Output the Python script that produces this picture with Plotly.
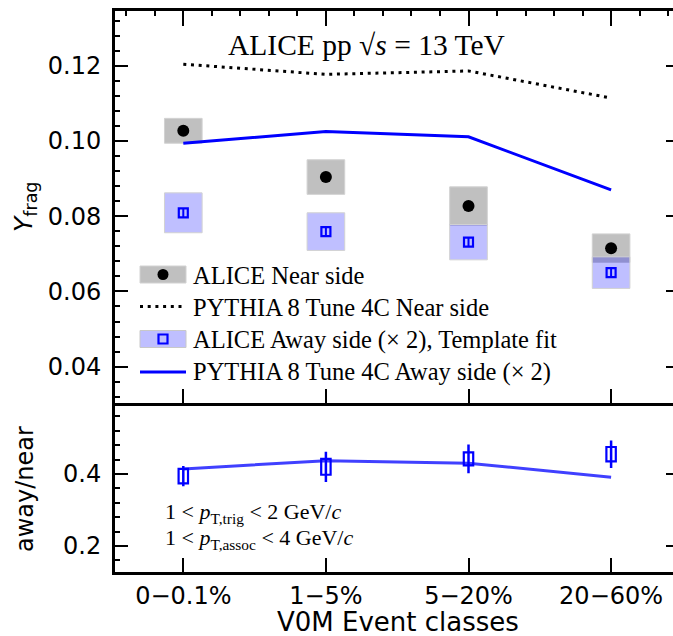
import plotly.graph_objects as go

# ---------------- data ----------------
categories = ["0\u22120.1%", "1\u22125%", "5\u221220%", "20\u221260%"]
xpos = [0, 1, 2, 3]

near_val = [0.1027, 0.0904, 0.0827, 0.0715]
near_sys = [0.0033, 0.0046, 0.0051, 0.0038]
away_val = [0.0809, 0.0759, 0.0731, 0.0650]
away_sys = [0.0053, 0.0050, 0.0047, 0.0042]
away_stat = [0.0011, 0.0012, 0.0012, 0.0011]
pythia_near = [0.1204, 0.1177, 0.1186, 0.1114]
pythia_away = [0.0994, 0.1025, 0.1011, 0.0870]

ratio_val = [0.394, 0.420, 0.442, 0.455]
ratio_sys = [0.020, 0.022, 0.018, 0.020]
ratio_stat = [0.028, 0.042, 0.040, 0.038]
pythia_ratio = [0.414, 0.437, 0.430, 0.391]

# ---------------- geometry helpers (pixels -> paper) ----------------
FW, FH = 673, 636
L, R, T, B = 115, 673, 11, 572
W, H = R - L, B - T


def px(x):
    return (x - L) / W


def py(y):
    return (B - y) / H


top_dom = [py(402.5), 1.0]
bot_dom = [0.0, py(405.5)]
xr = [(115 - 183.3) / 142.6, (673 - 183.3) / 142.6]
yr_top = [0.03048, 0.13454]
yr_bot = [0.1278, 0.5903]

BLUE = "#0000ff"
TICKFONT = dict(family="DejaVu Sans", size=24, color="black")
SERIF = "Liberation Serif"

fig = go.Figure()

# systematic boxes (top panel)
fig.add_trace(go.Bar(
    x=xpos, y=[2 * s for s in near_sys],
    base=[v - s for v, s in zip(near_val, near_sys)],
    width=0.264, marker=dict(color="#c0c0c0", line=dict(color="#d2d2d2", width=1)),
    xaxis="x", yaxis="y", showlegend=False, hoverinfo="skip"))
fig.add_trace(go.Bar(
    x=xpos, y=[2 * s for s in away_sys],
    base=[v - s for v, s in zip(away_val, away_sys)],
    width=0.264, marker=dict(color="rgba(0,0,255,0.25)", line=dict(color="#d2d2d2", width=1)),
    xaxis="x", yaxis="y", showlegend=False, hoverinfo="skip"))

# PYTHIA curves (top panel)
fig.add_trace(go.Scatter(
    x=xpos, y=pythia_near, mode="lines",
    line=dict(color="black", width=3, dash="3px,4.7px"),
    xaxis="x", yaxis="y", showlegend=False, hoverinfo="skip"))
fig.add_trace(go.Scatter(
    x=xpos, y=pythia_away, mode="lines",
    line=dict(color=BLUE, width=3),
    xaxis="x", yaxis="y", showlegend=False, hoverinfo="skip"))

# data points (top panel)
fig.add_trace(go.Scatter(
    x=xpos, y=near_val, mode="markers",
    marker=dict(symbol="circle", size=12, color="black"),
    xaxis="x", yaxis="y", showlegend=False, hoverinfo="skip"))
fig.add_trace(go.Scatter(
    x=xpos, y=away_val, mode="markers",
    marker=dict(symbol="square-open", size=9, color=BLUE, line=dict(width=2.2, color=BLUE)),
    error_y=dict(type="data", array=away_stat, visible=True, color=BLUE, thickness=2, width=0),
    xaxis="x", yaxis="y", showlegend=False, hoverinfo="skip"))

# bottom panel
fig.add_trace(go.Scatter(
    x=xpos, y=pythia_ratio, mode="lines",
    line=dict(color="rgba(0,0,255,0.75)", width=3),
    xaxis="x2", yaxis="y2", showlegend=False, hoverinfo="skip"))
fig.add_trace(go.Bar(
    x=xpos, y=[2 * s for s in ratio_sys],
    base=[v - s for v, s in zip(ratio_val, ratio_sys)],
    width=0.066, marker=dict(color="rgba(0,0,0,0)", line=dict(color=BLUE, width=2.2)),
    xaxis="x2", yaxis="y2", showlegend=False, hoverinfo="skip"))
fig.add_trace(go.Scatter(
    x=xpos, y=ratio_val, mode="markers",
    marker=dict(size=1, color="rgba(0,0,0,0)"),
    error_y=dict(type="data", array=ratio_stat, visible=True, color=BLUE, thickness=2.5, width=0),
    xaxis="x2", yaxis="y2", showlegend=False, hoverinfo="skip"))

# empty traces so that the mirror-tick axes (top / right) get drawn
fig.add_trace(go.Scatter(x=[], y=[], xaxis="x3", yaxis="y3", showlegend=False, hoverinfo="skip"))
fig.add_trace(go.Scatter(x=[], y=[], xaxis="x2", yaxis="y4", showlegend=False, hoverinfo="skip"))

common = dict(showgrid=False, zeroline=False)

fig.update_layout(
    width=FW, height=FH,
    margin=dict(l=L, r=FW - R, t=T, b=FH - B, pad=0),
    paper_bgcolor="white", plot_bgcolor="white",
    barmode="overlay", showlegend=False,
    xaxis=dict(domain=[0, 1], anchor="y", range=xr, tickmode="array", tickvals=xpos,
               ticks="inside", ticklen=14, tickwidth=1.6, tickcolor="black",
               showticklabels=False, showline=True, linewidth=3, linecolor="black", **common),
    xaxis3=dict(overlaying="x", anchor="y3", side="top", range=xr, tickmode="linear",
                tick0=0, dtick=1, ticks="inside", ticklen=15, tickwidth=1.6, tickcolor="black",
                minor=dict(ticks="inside", ticklen=5, tickwidth=1.6, tickcolor="black", dtick=0.2, tick0=0),
                showticklabels=False, showline=True, linewidth=3, linecolor="black", **common),
    yaxis=dict(domain=top_dom, anchor="x", range=yr_top, tickmode="linear", tick0=0, dtick=0.02,
               tickformat=".2f", ticks="inside", ticklen=13, tickwidth=1.6, tickcolor="black",
               minor=dict(ticks="inside", ticklen=5, tickwidth=1.6, tickcolor="black", dtick=0.004, tick0=0),
               tickfont=TICKFONT, ticklabelstandoff=6,
               showline=True, linewidth=3, linecolor="black", **common),
    yaxis3=dict(overlaying="y", anchor="x3", side="right", range=yr_top, tickmode="linear",
                tick0=0, dtick=0.02, ticks="inside", ticklen=7, tickwidth=1.6, tickcolor="black",
                showticklabels=False, showline=False, **common),
    xaxis2=dict(domain=[0, 1], anchor="y2", range=xr, tickmode="array", tickvals=xpos,
                ticktext=categories, ticks="inside", ticklen=14, tickwidth=1.6, tickcolor="black",
                tickfont=TICKFONT, ticklabelstandoff=0,
                showline=True, linewidth=3, linecolor="black", **common),
    yaxis2=dict(domain=bot_dom, anchor="x2", range=yr_bot, tickmode="linear", tick0=0, dtick=0.2,
                tickformat=".1f", ticks="inside", ticklen=13, tickwidth=1.6, tickcolor="black",
                minor=dict(ticks="inside", ticklen=5, tickwidth=1.6, tickcolor="black", dtick=0.04, tick0=0),
                tickfont=TICKFONT, ticklabelstandoff=6,
                showline=True, linewidth=3, linecolor="black", **common),
    yaxis4=dict(overlaying="y2", anchor="x2", side="right", range=yr_bot, tickmode="linear",
                tick0=0, dtick=0.2, ticks="inside", ticklen=7, tickwidth=1.6, tickcolor="black",
                showticklabels=False, showline=False, **common),
)

ann = []
# axis titles
ann.append(dict(text="<i>Y</i><sub>frag</sub>", x=px(25), y=py(207), xref="paper", yref="paper",
                textangle=-90, showarrow=False, xanchor="center", yanchor="middle",
                font=dict(family="DejaVu Sans", size=25, color="black")))
ann.append(dict(text="away/near", x=px(25), y=py(489), xref="paper", yref="paper",
                textangle=-90, showarrow=False, xanchor="center", yanchor="middle",
                font=dict(family="DejaVu Sans", size=24, color="black")))
ann.append(dict(text="V0M Event classes", x=px(398), y=py(622), xref="paper", yref="paper",
                showarrow=False, xanchor="center", yanchor="middle",
                font=dict(family="DejaVu Sans", size=26, color="black")))
# header
ann.append(dict(text="ALICE pp \u221A<i>s</i> = 13 TeV", x=px(366), y=py(45), xref="paper", yref="paper",
                showarrow=False, xanchor="center", yanchor="middle",
                font=dict(family=SERIF, size=29.5, color="black")))
# kinematics
ann.append(dict(text="1 &lt; <i>p</i><sub>T,trig</sub> &lt; 2 GeV/<i>c</i>", x=px(163), y=py(513),
                xref="paper", yref="paper", showarrow=False, xanchor="left", yanchor="middle",
                font=dict(family=SERIF, size=22, color="black")))
ann.append(dict(text="1 &lt; <i>p</i><sub>T,assoc</sub> &lt; 4 GeV/<i>c</i>", x=px(163), y=py(539),
                xref="paper", yref="paper", showarrow=False, xanchor="left", yanchor="middle",
                font=dict(family=SERIF, size=22, color="black")))

# manual legend
leg_rows = [275.5, 307, 339.5, 372]
leg_text = ["ALICE Near side", "PYTHIA 8 Tune 4C Near side",
            "ALICE Away side (\u00D7 2), Template fit", "PYTHIA 8 Tune 4C Away side (\u00D7 2)"]
for yy, tt in zip(leg_rows, leg_text):
    ann.append(dict(text=tt, x=px(191), y=py(yy), xref="paper", yref="paper",
                    showarrow=False, xanchor="left", yanchor="middle",
                    font=dict(family=SERIF, size=24.5, color="black")))
fig.update_layout(annotations=ann)

shapes = []
x0l, x1l = px(140), px(186)
# row 1
shapes.append(dict(type="rect", xref="paper", yref="paper", x0=x0l, x1=x1l, y0=py(283), y1=py(266),
                   fillcolor="#c0c0c0", line=dict(color="#d2d2d2", width=1)))
shapes.append(dict(type="circle", xref="paper", yref="paper", x0=px(157.5), x1=px(168.5),
                   y0=py(280), y1=py(269), fillcolor="black", line=dict(color="black", width=0)))
# row 2
shapes.append(dict(type="line", xref="paper", yref="paper", x0=x0l, x1=x1l, y0=py(306.5), y1=py(306.5),
                   line=dict(color="black", width=3, dash="3px,4.7px")))
# row 3
shapes.append(dict(type="rect", xref="paper", yref="paper", x0=x0l, x1=x1l, y0=py(347.5), y1=py(330.5),
                   fillcolor="rgba(0,0,255,0.25)", line=dict(color="#c8c8c8", width=1)))
shapes.append(dict(type="rect", xref="paper", yref="paper", x0=px(158.5), x1=px(167.5),
                   y0=py(343.5), y1=py(334.5), fillcolor="rgba(0,0,0,0)", line=dict(color=BLUE, width=2.2)))
# row 4
shapes.append(dict(type="line", xref="paper", yref="paper", x0=x0l, x1=x1l, y0=py(372), y1=py(372),
                   line=dict(color=BLUE, width=3)))
fig.update_layout(shapes=shapes)

fig.write_html("out.html", config={"displayModeBar": False},
               post_script="document.body.style.margin='0px';")
